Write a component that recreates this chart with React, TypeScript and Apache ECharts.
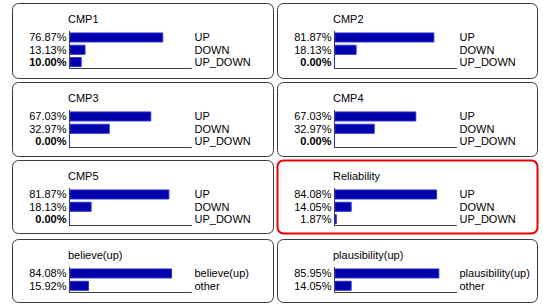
import React, { useEffect, useRef } from "react";
import * as echarts from "echarts";

// ---- data ----
const panelTitles = ["CMP1", "CMP2", "CMP3", "CMP4", "CMP5", "Reliability", "believe(up)", "plausibility(up)"];
const stateNames3 = ["UP", "DOWN", "UP_DOWN"];
const believeStates = ["believe(up)", "other"];
const plausStates = ["plausibility(up)", "other"];
const cmp1Values = [76.87, 13.13, 10.0];
const cmp2Values = [81.87, 18.13, 0.0];
const cmp3Values = [67.03, 32.97, 0.0];
const cmp4Values = [67.03, 32.97, 0.0];
const cmp5Values = [81.87, 18.13, 0.0];
const reliabilityValues = [84.08, 14.05, 1.87];
const believeValues = [84.08, 15.92];
const plausValues = [85.95, 14.05];
// index of the state whose percentage is shown in bold (-1 = none)
const boldIndex = [2, 2, 2, 2, 2, -1, -1, -1];
const selectedPanel = 5;

const panelCategories = [stateNames3, stateNames3, stateNames3, stateNames3, stateNames3, stateNames3, believeStates, plausStates];
const panelValues = [cmp1Values, cmp2Values, cmp3Values, cmp4Values, cmp5Values, reliabilityValues, believeValues, plausValues];

// ---- layout ----
const colLeft = [12, 277];
const colWidth = [261, 260];
const rowTop = [3, 82, 160, 239];
const rowHeight = [75, 74, 73, 63];
const FONT = "Liberation Sans, Arial, sans-serif";

export default function App() {
  const ref = useRef<HTMLDivElement>(null);
  useEffect(() => {
    if (!ref.current) return;
    const chart = echarts.init(ref.current, undefined, { renderer: "svg" });
    const grids: any[] = [];
    const xAxes: any[] = [];
    const yAxes: any[] = [];
    const series: any[] = [];
    const graphics: any[] = [];
    panelTitles.forEach((title, i) => {
      const col = i % 2;
      const row = Math.floor(i / 2);
      const pl = colLeft[col];
      const pt = rowTop[row];
      const cats = panelCategories[i];
      const vals = panelValues[i];
      const sel = i === selectedPanel;
      graphics.push({
        type: "rect",
        z: 0,
        shape: { x: pl + 0.5, y: pt + 0.5, width: colWidth[col], height: rowHeight[row], r: 6 },
        style: { fill: "#ffffff", stroke: sel ? "#ee0000" : "#3a3a3a", lineWidth: sel ? 2 : 1 },
      });
      graphics.push({
        type: "text",
        z: 1,
        x: pl + 56,
        y: pt + 15.5,
        style: { text: title, font: `11px ${FONT}`, fill: "#000", textVerticalAlign: "middle" },
      });
      grids.push({
        left: pl + 57.5,
        top: pt + 28.3,
        width: 122,
        height: cats.length * 12.33,
      });
      xAxes.push({
        type: "value",
        gridIndex: i,
        min: 0,
        max: 100,
        axisLine: { show: true, lineStyle: { color: "#404040", width: 1 } },
        axisTick: { show: false },
        axisLabel: { show: false },
        splitLine: { show: false },
      });
      const bi = boldIndex[i];
      yAxes.push({
        type: "category",
        gridIndex: i,
        data: cats,
        inverse: true,
        position: "left",
        axisLine: { show: true, onZero: false, lineStyle: { color: "#404040", width: 1 } },
        axisTick: { show: false },
        axisLabel: {
          interval: 0,
          hideOverlap: false,
          margin: 3,
          fontSize: 11,
          fontFamily: FONT,
          color: "#000",
          formatter: (_v: string, idx: number) => {
            const s = vals[idx].toFixed(2) + "%";
            return idx === bi ? `{b|${s}}` : s;
          },
          rich: { b: { fontWeight: "bold", fontSize: 11, fontFamily: FONT, color: "#000" } },
        },
      });
      yAxes.push({
        type: "category",
        gridIndex: i,
        data: cats,
        inverse: true,
        position: "right",
        axisLine: { show: false },
        axisTick: { show: false },
        axisLabel: { interval: 0, hideOverlap: false, margin: 3, fontSize: 11, fontFamily: FONT, color: "#000" },
      });
      series.push({
        type: "bar",
        xAxisIndex: i,
        yAxisIndex: i * 2,
        data: vals,
        barWidth: 10,
        itemStyle: { color: "#0000aa", borderColor: "#2b2bd6", borderWidth: 1 },
        silent: true,
        z: 3,
      });
    });
    chart.setOption({
      animation: false,
      backgroundColor: "#ffffff",
      grid: grids,
      xAxis: xAxes,
      yAxis: yAxes,
      series,
      graphic: { elements: graphics },
    });
    return () => chart.dispose();
  }, []);
  return <div ref={ref} style={{ position: "fixed", left: 0, top: 0, width: 543, height: 307 }} />;
}
